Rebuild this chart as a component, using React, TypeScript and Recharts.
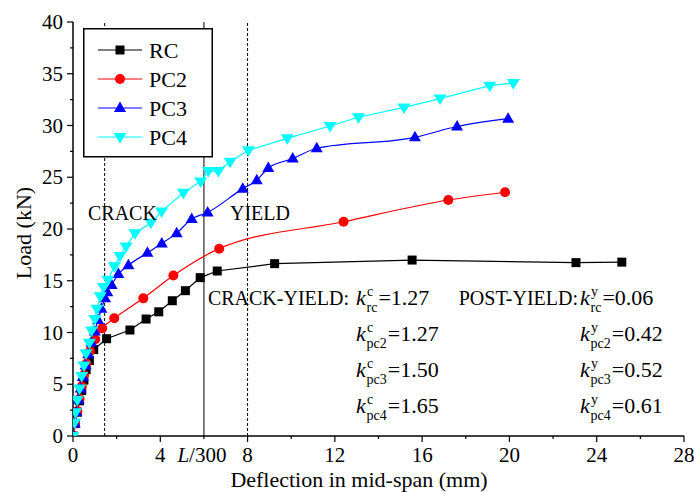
import { Legend, Line, LineChart, ReferenceLine, XAxis, YAxis } from "recharts";

// load–deflection readings (mm, kN)
const rcX = [0, 0.1, 0.2, 0.3, 0.4, 0.5, 0.6, 0.75, 0.95, 1.54, 2.61, 3.35, 3.93, 4.55, 5.15, 5.83, 6.61, 9.24, 15.54, 23.05, 25.15];
const rcY = [0, 1.2, 2.3, 3.4, 4.4, 5.4, 6.4, 7.3, 8.35, 9.4, 10.24, 11.3, 12.0, 13.07, 14.04, 15.3, 15.94, 16.65, 17.0, 16.75, 16.8];

const pc2X = [0, 0.1, 0.2, 0.3, 0.4, 0.5, 0.62, 0.78, 1.02, 1.34, 1.89, 3.22, 4.6, 6.7, 12.4, 17.2, 19.8];
const pc2Y = [0, 1.2, 2.4, 3.6, 4.8, 5.9, 7.0, 8.2, 9.34, 10.4, 11.37, 13.3, 15.5, 18.1, 20.7, 22.8, 23.55];

const pc3X = [0, 0.08, 0.15, 0.25, 0.35, 0.45, 0.58, 0.7, 0.85, 1.0, 1.15, 1.3, 1.47, 1.57, 1.77, 2.08, 2.54, 3.41, 4.07, 4.75, 5.44, 6.17, 7.78, 8.42, 8.95, 10.07, 11.17, 15.67, 17.6, 19.94];
const pc3Y = [0, 1.2, 2.3, 3.5, 4.6, 5.7, 6.8, 7.9, 9.0, 10.1, 11.2, 12.3, 13.3, 13.9, 14.6, 15.65, 16.5, 17.7, 18.6, 19.6, 20.97, 21.6, 23.9, 24.7, 25.9, 26.8, 27.8, 28.86, 29.9, 30.66];

const pc4X = [0, 0.07, 0.12, 0.2, 0.3, 0.4, 0.5, 0.6, 0.75, 0.85, 1.0, 1.1, 1.25, 1.4, 1.6, 1.9, 2.15, 2.43, 2.84, 3.57, 4.06, 5.06, 5.85, 6.2, 6.66, 7.2, 8.04, 9.82, 11.78, 13.08, 15.17, 16.82, 19.1, 20.18];
const pc4Y = [0, 1.3, 2.3, 3.5, 4.6, 5.8, 6.8, 8.0, 9.0, 10.2, 11.3, 12.3, 13.5, 14.4, 15.1, 16.4, 17.4, 18.3, 19.6, 20.6, 21.7, 23.5, 24.6, 25.6, 25.6, 26.5, 27.6, 28.76, 29.95, 30.8, 31.75, 32.6, 33.85, 34.1];

const xTicks = [0, 2, 4, 6, 8, 10, 12, 14, 16, 18, 20, 22, 24, 26, 28];
const yTicks = [0, 2.5, 5, 7.5, 10, 12.5, 15, 17.5, 20, 22.5, 25, 27.5, 30, 32.5, 35, 37.5, 40];

const crackX = 1.45;
const spanLimitX = 6; // L/300
const yieldX = 8;

const crackK = [
  { sub: "rc", val: "1.27" },
  { sub: "pc2", val: "1.27" },
  { sub: "pc3", val: "1.50" },
  { sub: "pc4", val: "1.65" },
];
const yieldK = [
  { sub: "rc", val: "0.06" },
  { sub: "pc2", val: "0.42" },
  { sub: "pc3", val: "0.52" },
  { sub: "pc4", val: "0.61" },
];

const pts = (xs: number[], ys: number[]) => xs.map((x, i) => ({ x, y: ys[i] }));

type Shape = "square" | "circle" | "up" | "down";

const series: { name: string; color: string; shape: Shape; curve: "linear" | "monotone"; data: { x: number; y: number }[] }[] = [
  { name: "RC", color: "#000000", shape: "square", curve: "linear", data: pts(rcX, rcY) },
  { name: "PC2", color: "#ff0000", shape: "circle", curve: "monotone", data: pts(pc2X, pc2Y) },
  { name: "PC3", color: "#0000ff", shape: "up", curve: "monotone", data: pts(pc3X, pc3Y) },
  { name: "PC4", color: "#00ffff", shape: "down", curve: "linear", data: pts(pc4X, pc4Y) },
];

const FONT = "'Liberation Serif', 'Times New Roman', serif";

function marker(shape: Shape, cx: number, cy: number, color: string, key?: string) {
  if (shape === "square") return <rect key={key} x={cx - 4.5} y={cy - 4.5} width={9} height={9} fill={color} />;
  if (shape === "circle") return <circle key={key} cx={cx} cy={cy} r={5} fill={color} />;
  if (shape === "up")
    return <polygon key={key} points={`${cx},${cy - 6.5} ${cx - 6},${cy + 4} ${cx + 6},${cy + 4}`} fill={color} />;
  return <polygon key={key} points={`${cx},${cy + 6.5} ${cx - 6.5},${cy - 4} ${cx + 6.5},${cy - 4}`} fill={color} />;
}

function BottomTick({ x, y, payload }: any) {
  const v = payload.value;
  const major = v % 4 === 0;
  return (
    <g>
      <line x1={x} x2={x} y1={y} y2={y + (major ? 6 : 3)} stroke="#000" strokeWidth={1.2} />
      {major && (
        <text x={x} y={y + 26} textAnchor="middle" fontSize={21} fontFamily={FONT} fill="#000">
          {v}
        </text>
      )}
      {v === spanLimitX && (
        <text x={x - 2} y={y + 26} textAnchor="middle" fontSize={21} fontFamily={FONT} fill="#000">
          <tspan fontStyle="italic">L</tspan>/300
        </text>
      )}
    </g>
  );
}

function LeftTick({ x, y, payload }: any) {
  const v = payload.value;
  const major = v % 5 === 0;
  return (
    <g>
      <line x1={x} x2={x - (major ? 6 : 3)} y1={y} y2={y} stroke="#000" strokeWidth={1.2} />
      {major && (
        <text x={x - 10} y={y + 7} textAnchor="end" fontSize={21} fontFamily={FONT} fill="#000">
          {v}
        </text>
      )}
    </g>
  );
}

function TopTick({ x, y, payload }: any) {
  const major = payload.value % 4 === 0;
  return <line x1={x} x2={x} y1={y} y2={y + (major ? 5 : 3)} stroke="#000" strokeWidth={1.2} />;
}

function RightTick({ x, y, payload }: any) {
  const major = payload.value % 5 === 0;
  return <line x1={x} x2={x - (major ? 5 : 3)} y1={y} y2={y} stroke="#000" strokeWidth={1.2} />;
}

function LegendBox() {
  return (
    <svg width={130} height={130} style={{ display: "block" }}>
      <rect x={0.75} y={0.75} width={128.5} height={128} fill="#fff" stroke="#000" strokeWidth={1.5} />
      {series.map((s, i) => {
        const cy = 22 + i * 29;
        return (
          <g key={s.name}>
            <line x1={15} x2={59} y1={cy} y2={cy} stroke={s.color} strokeWidth={1.2} />
            {marker(s.shape, 37, cy, s.color)}
            <text x={66} y={cy + 8} fontSize={22} fontFamily={FONT} fill="#000">
              {s.name}
            </text>
          </g>
        );
      })}
    </svg>
  );
}

function KLabel({ x, y, sup, sub, val }: { x: number; y: number; sup: string; sub: string; val: string }) {
  return (
    <g fontFamily={FONT} fill="#000">
      <text x={x} y={y} fontSize={22} fontStyle="italic">k</text>
      <text x={x + 11} y={y - 9} fontSize={14}>{sup}</text>
      <text x={x + 10.5} y={y + 7} fontSize={14}>
        {sub}
        <tspan dy={-7} dx={1} fontSize={22}>={val}</tspan>
      </text>
    </g>
  );
}

export default function App() {
  return (
    <div style={{ position: "absolute", left: 0, top: 0, width: 694, height: 492, background: "#fff" }}>
      <LineChart width={694} height={492} margin={{ top: 22, right: 10, left: 0, bottom: 0 }}>
        <XAxis
          dataKey="x"
          type="number"
          domain={[0, 28]}
          ticks={xTicks}
          interval={0}
          height={56}
          tickSize={0}
          tickMargin={0}
          tickLine={false}
          tick={BottomTick}
          axisLine={{ stroke: "#000", strokeWidth: 1.5 }}
          allowDataOverflow
        />
        <XAxis
          xAxisId="top"
          orientation="top"
          type="number"
          domain={[0, 28]}
          ticks={xTicks}
          interval={0}
          height={0}
          tickSize={0}
          tickMargin={0}
          tickLine={false}
          tick={TopTick}
          axisLine={{ stroke: "#000", strokeWidth: 1.5 }}
        />
        <YAxis
          type="number"
          domain={[0, 40]}
          ticks={yTicks}
          interval={0}
          width={73}
          tickSize={0}
          tickMargin={0}
          tickLine={false}
          tick={LeftTick}
          axisLine={{ stroke: "#000", strokeWidth: 1.5 }}
          allowDataOverflow
        />
        <YAxis
          yAxisId="right"
          orientation="right"
          type="number"
          domain={[0, 40]}
          ticks={yTicks}
          interval={0}
          width={0}
          tickSize={0}
          tickMargin={0}
          tickLine={false}
          tick={RightTick}
          axisLine={{ stroke: "#000", strokeWidth: 1.5 }}
        />
        <ReferenceLine x={crackX} stroke="#000" strokeWidth={1} strokeDasharray="3 2" />
        <ReferenceLine x={spanLimitX} stroke="#000" strokeWidth={1} />
        <ReferenceLine x={yieldX} stroke="#000" strokeWidth={1} strokeDasharray="3 2" />
        {series.map((s) => (
          <Line
            key={s.name}
            name={s.name}
            data={s.data}
            dataKey="y"
            type={s.curve}
            stroke={s.color}
            strokeWidth={1.2}
            isAnimationActive={false}
            dot={(p: any) => marker(s.shape, p.cx, p.cy, s.color, `${s.name}-${p.index}`)}
            activeDot={false}
          />
        ))}
        <Legend
          layout="vertical"
          verticalAlign="middle"
          align="center"
          wrapperStyle={{ position: "absolute", left: 83, top: 28, width: 130, height: 130 }}
          content={() => <LegendBox />}
        />
      </LineChart>
      <svg
        width={694}
        height={492}
        style={{ position: "absolute", left: 0, top: 0, pointerEvents: "none" }}
        fontFamily={FONT}
      >
        <text x={31} y={233} fontSize={22} textAnchor="middle" transform="rotate(-90 31 233)" fill="#000">
          Load (kN)
        </text>
        <text x={359} y={487} fontSize={22} textAnchor="middle" fill="#000">
          Deflection in mid-span (mm)
        </text>
        <text x={88} y={220} fontSize={20} fill="#000">CRACK</text>
        <text x={230} y={220} fontSize={20} fill="#000">YIELD</text>
        <text x={349} y={305} fontSize={20} textAnchor="end" fill="#000">CRACK-YIELD:</text>
        <text x={578} y={305} fontSize={20} textAnchor="end" fill="#000">POST-YIELD:</text>
        {crackK.map((k, i) => (
          <KLabel key={"c" + k.sub} x={356} y={305 + i * 36} sup="c" sub={k.sub} val={k.val} />
        ))}
        {yieldK.map((k, i) => (
          <KLabel key={"y" + k.sub} x={580} y={305 + i * 36} sup="y" sub={k.sub} val={k.val} />
        ))}
      </svg>
    </div>
  );
}
